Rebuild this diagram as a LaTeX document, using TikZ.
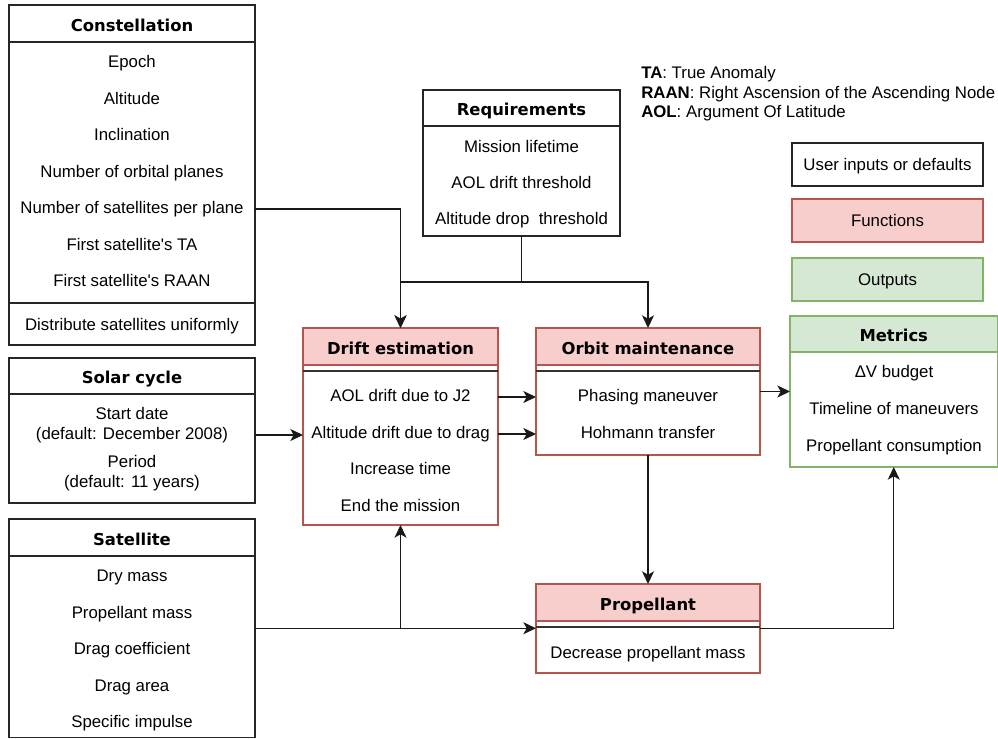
\documentclass[tikz,border=0pt]{standalone}
\usepackage{fontspec}
\setmainfont{Liberation Sans}
\newfontfamily\ttlfont{DejaVu Sans}
\usetikzlibrary{arrows.meta}
\definecolor{pinkF}{HTML}{F8CECC}
\definecolor{pinkD}{HTML}{B85450}
\definecolor{greenF}{HTML}{D5E8D4}
\definecolor{greenD}{HTML}{82B366}
\newcommand\bx[6]{\node[#6, anchor=north west, inner sep=0pt, outer sep=0pt,
  minimum width={(#4-#2)*0.75pt}, minimum height={(#5-#3)*0.75pt}] (#1) at (#2,#3) {};}
\tikzset{
  inbox/.style={draw=black!85, line width=0.9pt, fill=white},
  fnbox/.style={draw=pinkD, line width=0.9pt, fill=white},
  fnband/.style={draw=pinkD, line width=0.9pt, fill=pinkF},
  outbox/.style={draw=greenD, line width=0.9pt, fill=white},
  outband/.style={draw=greenD, line width=0.9pt, fill=greenF},
  sepline/.style={draw=black!80, line width=1.1pt},
  txt/.style={font=\fontsize{12.6}{15}\selectfont, inner sep=0pt, text height=9pt, text depth=2.6pt, yshift=-1.5pt},
  ttl/.style={font=\ttlfont\bfseries\fontsize{12.3}{14}\selectfont, inner sep=0pt, text height=9pt, text depth=2.6pt, yshift=-2.5pt},
  conn/.style={draw=black!90, line width=1pt},
  arr/.style={conn, -{Stealth[length=9.5pt,width=9pt,inset=2.5pt]}},
}
\begin{document}
\begin{tikzpicture}[x=0.75pt,y=-0.75pt]
\useasboundingbox (0,0) rectangle (998,738);

% Constellation
\bx{cons}{9}{5}{255}{345}{inbox}
\bx{consT}{9}{5}{255}{42}{inbox}
\bx{consD}{9}{303}{255}{345}{inbox}
\node[ttl] (consTt) at (consT) {Constellation};
\foreach \t/\y [count=\i] in {Epoch/61, Altitude/98, Inclination/134, Number of orbital planes/171, Number of satellites per plane/207, First satellite\textquotesingle s TA/244, First satellite\textquotesingle s RAAN/280}
  \node[txt] (c\i) at (132,\y) {\t};
\node[txt] (cD) at (consD) {Distribute satellites uniformly};

% Solar cycle
\bx{sol}{9}{358}{255}{503}{inbox}
\bx{solT}{9}{358}{255}{394}{inbox}
\node[ttl] (solTt) at (solT) {Solar cycle};
\node[txt] (s1) at (132,413) {Start date};
\node[txt] (s2) at (132,433) {(default: December 2008)};
\node[txt] (s3) at (132,461) {Period};
\node[txt] (s4) at (132,481) {(default: 11 years)};

% Satellite
\bx{sat}{9}{519}{255}{737.5}{inbox}
\bx{satT}{9}{519}{255}{556}{inbox}
\node[ttl] (satTt) at (satT) {Satellite};
\foreach \t/\y [count=\i] in {Dry mass/575, Propellant mass/612, Drag coefficient/648, Drag area/685, Specific impulse/721}
  \node[txt] (sa\i) at (132,\y) {\t};

% Requirements
\bx{req}{423}{90}{620}{236}{inbox}
\bx{reqT}{423}{90}{620}{126}{inbox}
\node[ttl] (reqTt) at (reqT) {Requirements};
\node[txt] (r1) at (521.5,146) {Mission lifetime};
\node[txt] (r2) at (521.5,182) {AOL drift threshold};
\node[txt] (r3) at (521.5,218) {Altitude drop\ \ threshold};

% Legend
\node[txt, anchor=west] (lg1) at (641,72) {\textbf{TA}: True Anomaly};
\node[txt, anchor=west] (lg2) at (641,92) {\textbf{RAAN}: Right Ascension of the Ascending Node};
\node[txt, anchor=west] (lg3) at (641,111) {\textbf{AOL}: Argument Of Latitude};
\bx{legU}{792}{143}{983}{186}{inbox}
\node[txt] (legUt) at (legU) {User inputs or defaults};
\bx{legF}{792}{199}{983}{242}{fnband}
\node[txt] (legFt) at (legF) {Functions};
\bx{legO}{792}{258}{983}{301}{outband}
\node[txt] (legOt) at (legO) {Outputs};

% Drift estimation
\bx{drift}{303}{328}{498}{525}{fnbox}
\bx{driftT}{303}{328}{498}{365}{fnband}
\draw[sepline] (drift.west |- 0,371) -- (drift.east |- 0,371);
\node[ttl] (driftTt) at (driftT) {Drift estimation};
\node[txt] (d1) at (400.5,395) {AOL drift due to J2};
\node[txt] (d2) at (400.5,432) {Altitude drift due to drag};
\node[txt] (d3) at (400.5,468) {Increase time};
\node[txt] (d4) at (400.5,505) {End the mission};

% Orbit maintenance
\bx{orb}{536}{328}{760}{455}{fnbox}
\bx{orbT}{536}{328}{760}{365}{fnband}
\draw[sepline] (orb.west |- 0,371) -- (orb.east |- 0,371);
\node[ttl] (orbTt) at (orbT) {Orbit maintenance};
\node[txt] (o1) at (648,395) {Phasing maneuver};
\node[txt] (o2) at (648,432) {Hohmann transfer};

% Propellant
\bx{prop}{536}{584}{760}{673}{fnbox}
\bx{propT}{536}{584}{760}{621}{fnband}
\draw[sepline] (prop.west |- 0,627) -- (prop.east |- 0,627);
\node[ttl] (propTt) at (propT) {Propellant};
\node[txt] (p1) at (648,652) {Decrease propellant mass};

% Metrics
\bx{met}{790}{316}{997.5}{467}{outbox}
\bx{metT}{790}{316}{997.5}{352}{outband}
\node[ttl] (metTt) at (metT) {Metrics};
\node[txt] (m1) at (894,371) {ΔV budget};
\node[txt] (m2) at (894,408) {Timeline of maneuvers};
\node[txt] (m3) at (894,445) {Propellant consumption};

% Connectors
\draw[arr] (cons.east |- c5) -| (drift.north);
\coordinate (rj) at (req.south |- 0,282);
\draw[conn] (req.south) -- (rj);
\draw[arr] (rj) -| (drift.north);
\draw[arr] (rj) -| (orb.north);
\draw[arr] (sol.east |- s2) -- (drift.west |- s2);
\draw[arr] (drift.east |- d1) -- (orb.west |- d1);
\draw[arr] (drift.east |- d2) -- (orb.west |- d2);
\draw[arr] (orb.east |- met.west) -- (met.west);
\draw[arr] (orb.south) -- (prop.north);
\draw[arr] (sat.east) -- (prop.west |- sat.east);
\draw[arr] (sat.east -| drift.south) -- (drift.south);
\draw[arr] (prop.east |- sat.east) -| (met.south);
\end{tikzpicture}
\end{document}
